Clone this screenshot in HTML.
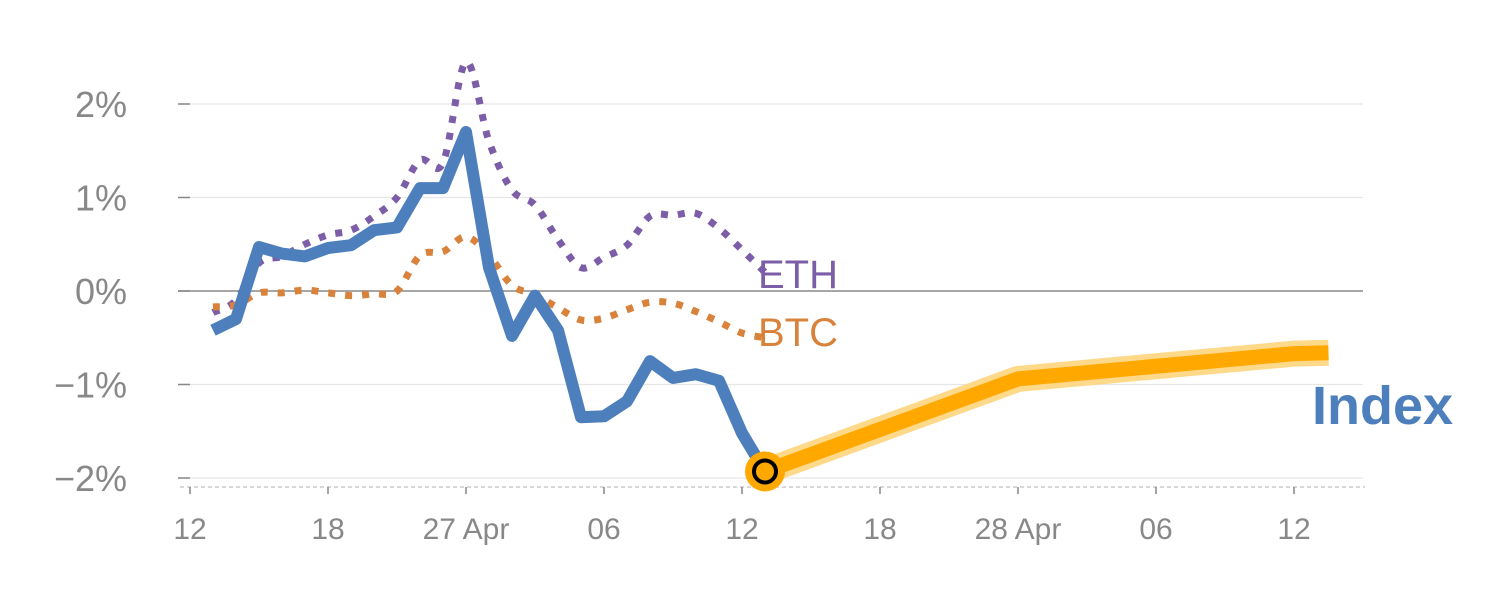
<!DOCTYPE html>
<html><head><meta charset="utf-8"><style>
html,body{margin:0;padding:0;background:#fff;width:1500px;height:600px;overflow:hidden}
svg text{font-family:"Liberation Sans",sans-serif}
</style></head><body>
<svg id="chart" width="1500" height="600" xmlns="http://www.w3.org/2000/svg"></svg>
<script>
const xTickIdx=[0,6,12,18,24,30,36,42,48];
const xTickLabels=["12","18","27 Apr","06","12","18","28 Apr","06","12"];
const yTicks=[2,1,0,-1,-2];
const yTickLabels=["2%","1%","0%","\u22121%","\u22122%"];
const histIdx=[1,2,3,4,5,6,7,8,9,10,11,12,13,14,15,16,17,18,19,20,21,22,23,24,25];
const indexVals=[-0.42,-0.3,0.47,0.4,0.37,0.46,0.49,0.65,0.68,1.1,1.1,1.7,0.25,-0.48,-0.05,-0.42,-1.35,-1.34,-1.18,-0.75,-0.93,-0.89,-0.96,-1.52,-1.93];
const ethVals=[-0.23,-0.1,0.3,0.37,0.5,0.6,0.65,0.8,1.0,1.4,1.37,2.45,1.6,1.08,0.92,0.55,0.25,0.36,0.49,0.8,0.81,0.83,0.67,0.44,0.2];
const btcVals=[-0.17,-0.15,-0.02,-0.02,0.01,-0.02,-0.05,-0.03,0.0,0.38,0.42,0.58,0.38,0.06,-0.04,-0.18,-0.31,-0.29,-0.2,-0.12,-0.13,-0.22,-0.33,-0.45,-0.5];
const fcIdx=[25,36,48,49.5];
const fcVals=[-1.93,-0.94,-0.67,-0.66];

const X=i=>190+23*i;
const Y=v=>291-93.5*v;
const svg=document.getElementById('chart');
const NS='http://www.w3.org/2000/svg';
function mk(tag,attrs,parent){const e=document.createElementNS(NS,tag);for(const k in attrs)e.setAttribute(k,attrs[k]);(parent||svg).appendChild(e);return e;}
function smooth(pts){let d=`M${pts[0][0]},${pts[0][1]}`;for(let i=0;i<pts.length-1;i++){const p0=pts[i-1]||pts[i],p1=pts[i],p2=pts[i+1],p3=pts[i+2]||p2;d+=` C${p1[0]+(p2[0]-p0[0])/6},${p1[1]+(p2[1]-p0[1])/6} ${p2[0]-(p3[0]-p1[0])/6},${p2[1]-(p3[1]-p1[1])/6} ${p2[0]},${p2[1]}`;}return d;}

yTicks.forEach((v,k)=>{
  const g=mk('line',{x1:178,x2:1363,y1:Y(v),y2:Y(v),stroke:v===0?'#888':'#e6e6e6','stroke-width':v===0?1.5:1.2});
  
  
  const tk=mk('line',{x1:178,x2:190,y1:Y(v),y2:Y(v),stroke:'#888','stroke-width':1.5});
  
  
  const t=mk('text',{x:127,y:Y(v)+13,'text-anchor':'end','font-size':36,fill:'#888'});
  t.textContent=yTickLabels[k];
  
  
});
const ax=mk('line',{x1:180,x2:1365,y1:487,y2:487,stroke:'#ccc','stroke-width':1.5,'stroke-dasharray':'4,3'});


xTickIdx.forEach((i,k)=>{
  const tk=mk('line',{x1:X(i),x2:X(i),y1:487,y2:494,stroke:'#888','stroke-width':1.5});
  
  
  const t=mk('text',{x:X(i),y:539,'text-anchor':'middle','font-size':30,fill:'#888'});
  t.textContent=xTickLabels[k];
  
  
});
const ethP=mk('path',{d:smooth(histIdx.map((i,k)=>[X(i),Y(ethVals[k])])),fill:'none',stroke:'#7b5ea7','stroke-width':7,'stroke-dasharray':'7,10'});


const btcP=mk('path',{d:smooth(histIdx.map((i,k)=>[X(i),Y(btcVals[k])])),fill:'none',stroke:'#d9823b','stroke-width':7,'stroke-dasharray':'7,10'});


const idxP=mk('polyline',{points:histIdx.map((i,k)=>X(i)+','+Y(indexVals[k])).join(' '),fill:'none',stroke:'#4e7fbd','stroke-width':12,'stroke-linejoin':'round'});


const fpts=fcIdx.map((i,k)=>X(i)+','+Y(fcVals[k])).join(' ');
const fb=mk('polyline',{points:fpts,fill:'none',stroke:'#ffd98a','stroke-width':26,'stroke-linejoin':'round'});


const fl=mk('polyline',{points:fpts,fill:'none',stroke:'#ffa800','stroke-width':15,'stroke-linejoin':'round'});


const last=indexVals[indexVals.length-1];
const c1=mk('circle',{cx:X(histIdx[histIdx.length-1]),cy:Y(last),r:20,fill:'#ffa800'});


mk('circle',{cx:X(histIdx[histIdx.length-1]),cy:Y(last),r:11,fill:'#ffa800',stroke:'#000','stroke-width':4});
const le=mk('text',{x:758,y:288,'font-size':40,fill:'#7b5ea7'});le.textContent='ETH';


const lb=mk('text',{x:758,y:346,'font-size':40,fill:'#d9823b'});lb.textContent='BTC';


const li=mk('text',{x:1312,y:424,'font-size':54,'font-weight':'bold',fill:'#4e7fbd'});li.textContent='Index';


</script>
</body></html>
